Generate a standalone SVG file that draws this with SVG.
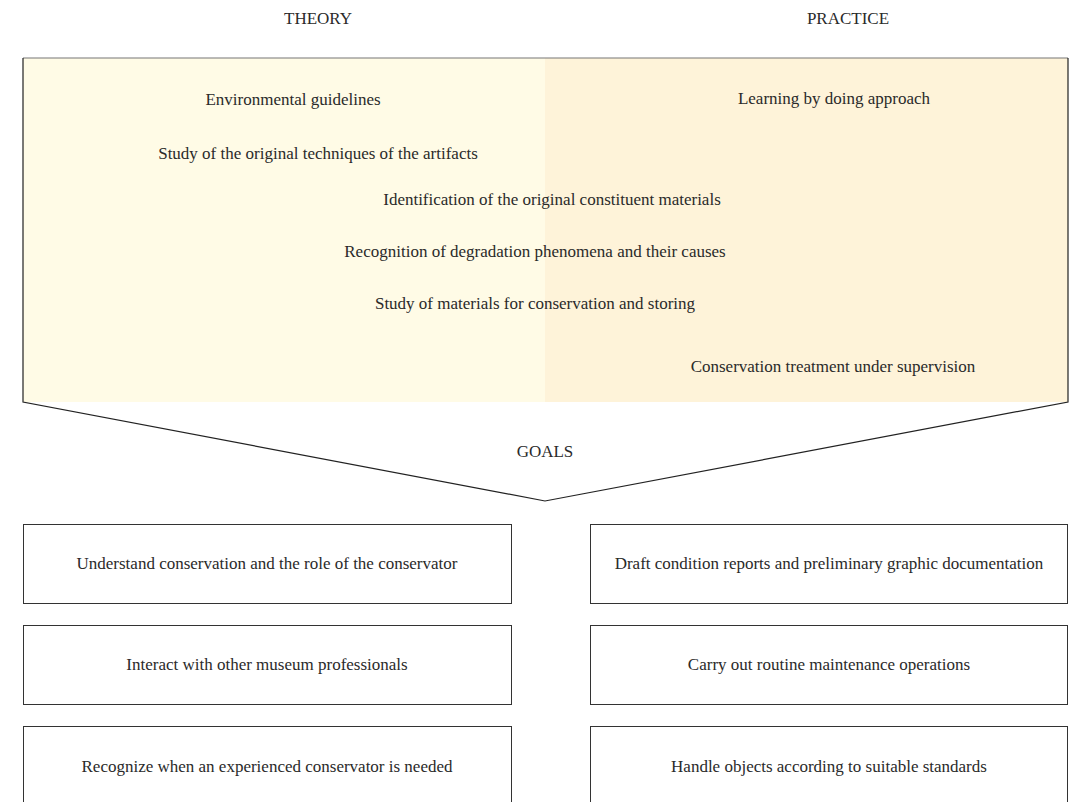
<svg xmlns="http://www.w3.org/2000/svg" width="1079" height="802" viewBox="0 0 1079 802">
<style>
text{font-family:"Liberation Serif","DejaVu Serif",serif;font-size:17px;fill:#2a2a2a;text-anchor:middle}
.hdr{font-size:17px}
.box{fill:#fff;stroke:#333;stroke-width:1}
.edge{fill:none;stroke:#222;stroke-width:1.2}
</style>
<rect width="1079" height="802" fill="#fff"/>
<g id="headers">
<text class="hdr" x="318" y="24">THEORY</text>
<text class="hdr" x="848" y="24">PRACTICE</text>
</g>
<g id="panel">
<rect x="23" y="58" width="522" height="344" fill="#fffbe6"/>
<rect x="545" y="58" width="523" height="344" fill="#fef3d9"/>
<line x1="23" y1="58" x2="1068" y2="58" stroke="#777" stroke-width="1.2"/>
<polyline class="edge" points="23,58 23,402 545,501 1068,402 1068,58"/>
</g>
<g id="items">
<text x="293" y="105">Environmental guidelines</text>
<text x="834" y="104">Learning by doing approach</text>
<text x="318" y="159">Study of the original techniques of the artifacts</text>
<text x="552" y="205">Identification of the original constituent materials</text>
<text x="535" y="257">Recognition of degradation phenomena and their causes</text>
<text x="535" y="309">Study of materials for conservation and storing</text>
<text x="833" y="372">Conservation treatment under supervision</text>
<text class="hdr" x="545" y="457">GOALS</text>
</g>
<g id="connectors"></g>
<g id="goal-l1"><rect class="box" x="23.5" y="524.5" width="488" height="79"/><text x="267" y="569">Understand conservation and the role of the conservator</text></g>
<g id="goal-l2"><rect class="box" x="23.5" y="625.5" width="488" height="79"/><text x="267" y="670">Interact with other museum professionals</text></g>
<g id="goal-l3"><rect class="box" x="23.5" y="726.5" width="488" height="79"/><text x="267" y="772">Recognize when an experienced conservator is needed</text></g>
<g id="goal-r1"><rect class="box" x="590.5" y="524.5" width="477" height="79"/><text x="829" y="569">Draft condition reports and preliminary graphic documentation</text></g>
<g id="goal-r2"><rect class="box" x="590.5" y="625.5" width="477" height="79"/><text x="829" y="670">Carry out routine maintenance operations</text></g>
<g id="goal-r3"><rect class="box" x="590.5" y="726.5" width="477" height="79"/><text x="829" y="772">Handle objects according to suitable standards</text></g>
</svg>
